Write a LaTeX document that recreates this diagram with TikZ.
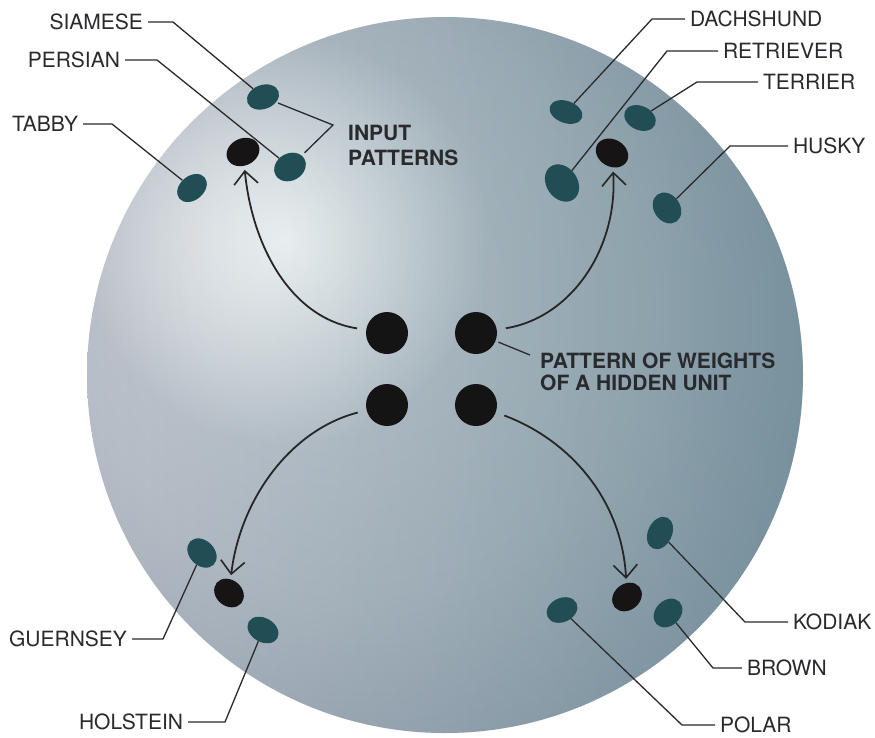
\documentclass[tikz,border=0pt]{standalone}
\usepackage{fontspec}
\setmainfont{TeX Gyre Heros}
\usetikzlibrary{shapes.geometric,arrows.meta,fadings}
\definecolor{inkc}{RGB}{40,42,46}
\definecolor{tealdot}{RGB}{32,78,84}
\definecolor{protodot}{RGB}{22,20,20}
\definecolor{sphA}{RGB}{204,208,215}
\definecolor{sphB}{RGB}{184,190,199}
\definecolor{sphC}{RGB}{150,158,174}
\definecolor{sphE}{RGB}{104,116,144}
\definecolor{tealtint}{RGB}{45,100,112}
\pgfdeclareradialshading{sphereshade}{\pgfpoint{-10bp}{8bp}}{color(0bp)=(sphA); color(20bp)=(sphB); color(38bp)=(sphC); color(50bp)=(sphE)}
\tikzfading[name=glow, inner color=transparent!0, outer color=transparent!100]
\begin{document}
\begin{tikzpicture}[x=1pt,y=-1pt,
  lbl/.style={font=\fontsize{21}{23}\selectfont, text=inkc, inner sep=0pt, outer sep=5pt},
  blbl/.style={font=\fontsize{21}{25}\selectfont\bfseries, text=inkc, align=left, inner sep=0pt},
  lead/.style={draw=inkc, line width=1.3pt},
  inp/.style={ellipse, fill=tealdot, inner sep=0pt, minimum width=33pt, minimum height=24pt},
  proto/.style={ellipse, fill=protodot, inner sep=0pt, minimum width=34pt, minimum height=27pt},
  hid/.style={circle, fill=black!92, minimum size=42pt, inner sep=0pt},
  arr/.style={draw=black!85, line width=1.8pt, -{Straight Barb[length=13pt,width=24pt,line width=1.6pt]}, shorten <=9pt, shorten >=4pt}]
\useasboundingbox (0,0) rectangle (875,737);
\fill[white] (0,0) rectangle (875,737);
% sphere
\path[shading=sphereshade] (445,375) circle[radius=358pt];
\begin{scope}
  \clip (445,375) circle[radius=358pt];
  \fill[white, path fading=glow] (285,240) circle[radius=205pt];
\end{scope}
\fill[tealtint, fill opacity=0.38, path fading=west] (445,375) circle[radius=358pt];

% cats
\node[inp, rotate=20] (e-siamese) at (263,97) {};
\node[inp, rotate=30, minimum height=27pt] (e-persian) at (290,167) {};
\node[inp, rotate=40] (e-tabby) at (192,188) {};
\node[proto, rotate=25] (cat) at (243,152) {};
% dogs
\node[inp, rotate=-20, minimum width=34pt, minimum height=22pt] (e-dachshund) at (566,112) {};
\node[inp, rotate=-25] (e-terrier) at (640,118) {};
\node[inp, rotate=-55, minimum width=40pt, minimum height=31pt] (e-retriever) at (562,183) {};
\node[inp, rotate=-55, minimum width=33pt, minimum height=26pt] (e-husky) at (667,208) {};
\node[proto, rotate=-30] (dog) at (612,153) {};
% cows
\node[inp, rotate=-45, minimum height=25pt] (e-guernsey) at (202,553) {};
\node[proto, rotate=-40, minimum width=32pt, minimum height=26pt] (cow) at (229,593) {};
\node[inp, rotate=-30] (e-holstein) at (263,630) {};
% bears
\node[inp, rotate=65, minimum width=34pt] (e-kodiak) at (660,533) {};
\node[inp, rotate=45, minimum width=32pt, minimum height=25pt] (e-brown) at (668,613) {};
\node[inp, rotate=25, minimum width=32pt] (e-polar) at (562,610) {};
\node[proto, rotate=40, minimum width=32pt, minimum height=26pt] (bear) at (627,597) {};

% hidden unit
\node[hid] (h1) at (387,333) {};
\node[hid] (h2) at (476,333) {};
\node[hid] (h3) at (387,405) {};
\node[hid] (h4) at (476,405) {};

% arrows
\draw[arr] (h1) .. controls (290,318) and (252,245) .. (cat);
\draw[arr] (h2) .. controls (570,318) and (618,250) .. (dog);
\draw[arr] (h3) .. controls (290,430) and (240,500) .. (cow);
\draw[arr] (h4) .. controls (570,440) and (622,500) .. (bear);

% labels, left
\node[lbl, anchor=east] (siamese) at (148,22) {SIAMESE};
\node[lbl, anchor=east] (persian) at (125,60) {PERSIAN};
\node[lbl, anchor=east] (tabby) at (83,124) {TABBY};
\node[lbl, anchor=east] (guernsey) at (132,639) {GUERNSEY};
\node[lbl, anchor=east] (holstein) at (188,722) {HOLSTEIN};
% labels, right
\node[lbl, anchor=west] (dachshund) at (685,19) {DACHSHUND};
\node[lbl, anchor=west] (retriever) at (718,51) {RETRIEVER};
\node[lbl, anchor=west] (terrier) at (758,82) {TERRIER};
\node[lbl, anchor=west] (husky) at (788,146) {HUSKY};
\node[lbl, anchor=west] (kodiak) at (788,622) {KODIAK};
\node[lbl, anchor=west] (brown) at (742,668) {BROWN};
\node[lbl, anchor=west] (polar) at (715,725) {POLAR};

\coordinate (b-siamese) at (173,22);
\coordinate (b-persian) at (157,60);
\coordinate (b-tabby) at (112,124);
\coordinate (b-guernsey) at (163,639);
\coordinate (b-holstein) at (225,722);
\coordinate (b-dachshund) at (652,19);
\coordinate (b-retriever) at (667,51);
\coordinate (b-terrier) at (697,82);
\coordinate (b-husky) at (730,146);
\coordinate (b-kodiak) at (745,622);
\coordinate (b-brown) at (713,668);
\coordinate (b-polar) at (682,725);

\draw[lead] (siamese) -- (b-siamese) -- (e-siamese);
\draw[lead] (persian) -- (b-persian) -- (e-persian);
\draw[lead] (tabby) -- (b-tabby) -- (e-tabby);
\draw[lead] (guernsey) -- (b-guernsey) -- (e-guernsey);
\draw[lead] (holstein) -- (b-holstein) -- (e-holstein);
\draw[lead] (dachshund) -- (b-dachshund) -- (e-dachshund);
\draw[lead] (retriever) -- (b-retriever) -- (e-retriever);
\draw[lead] (terrier) -- (b-terrier) -- (e-terrier);
\draw[lead] (husky) -- (b-husky) -- (e-husky);
\draw[lead] (kodiak) -- (b-kodiak) -- (e-kodiak);
\draw[lead] (brown) -- (b-brown) -- (e-brown);
\draw[lead] (polar) -- (b-polar) -- (e-polar);

% input patterns
\node[blbl, anchor=west] (inpat) at (348,145) {INPUT\\PATTERNS};
\coordinate (ipt) at (333,125);
\draw[lead, shorten <=2pt, shorten >=4pt] (e-siamese) -- (ipt) -- (e-persian);

% pattern of weights
\node[blbl, anchor=west, font=\fontsize{21}{22}\selectfont\bfseries] (pw) at (540,372) {PATTERN OF WEIGHTS\\OF A HIDDEN UNIT};
\coordinate (pwt) at (530,355);
\draw[lead, shorten <=3pt] (h2) -- (pwt);
\end{tikzpicture}
\end{document}
